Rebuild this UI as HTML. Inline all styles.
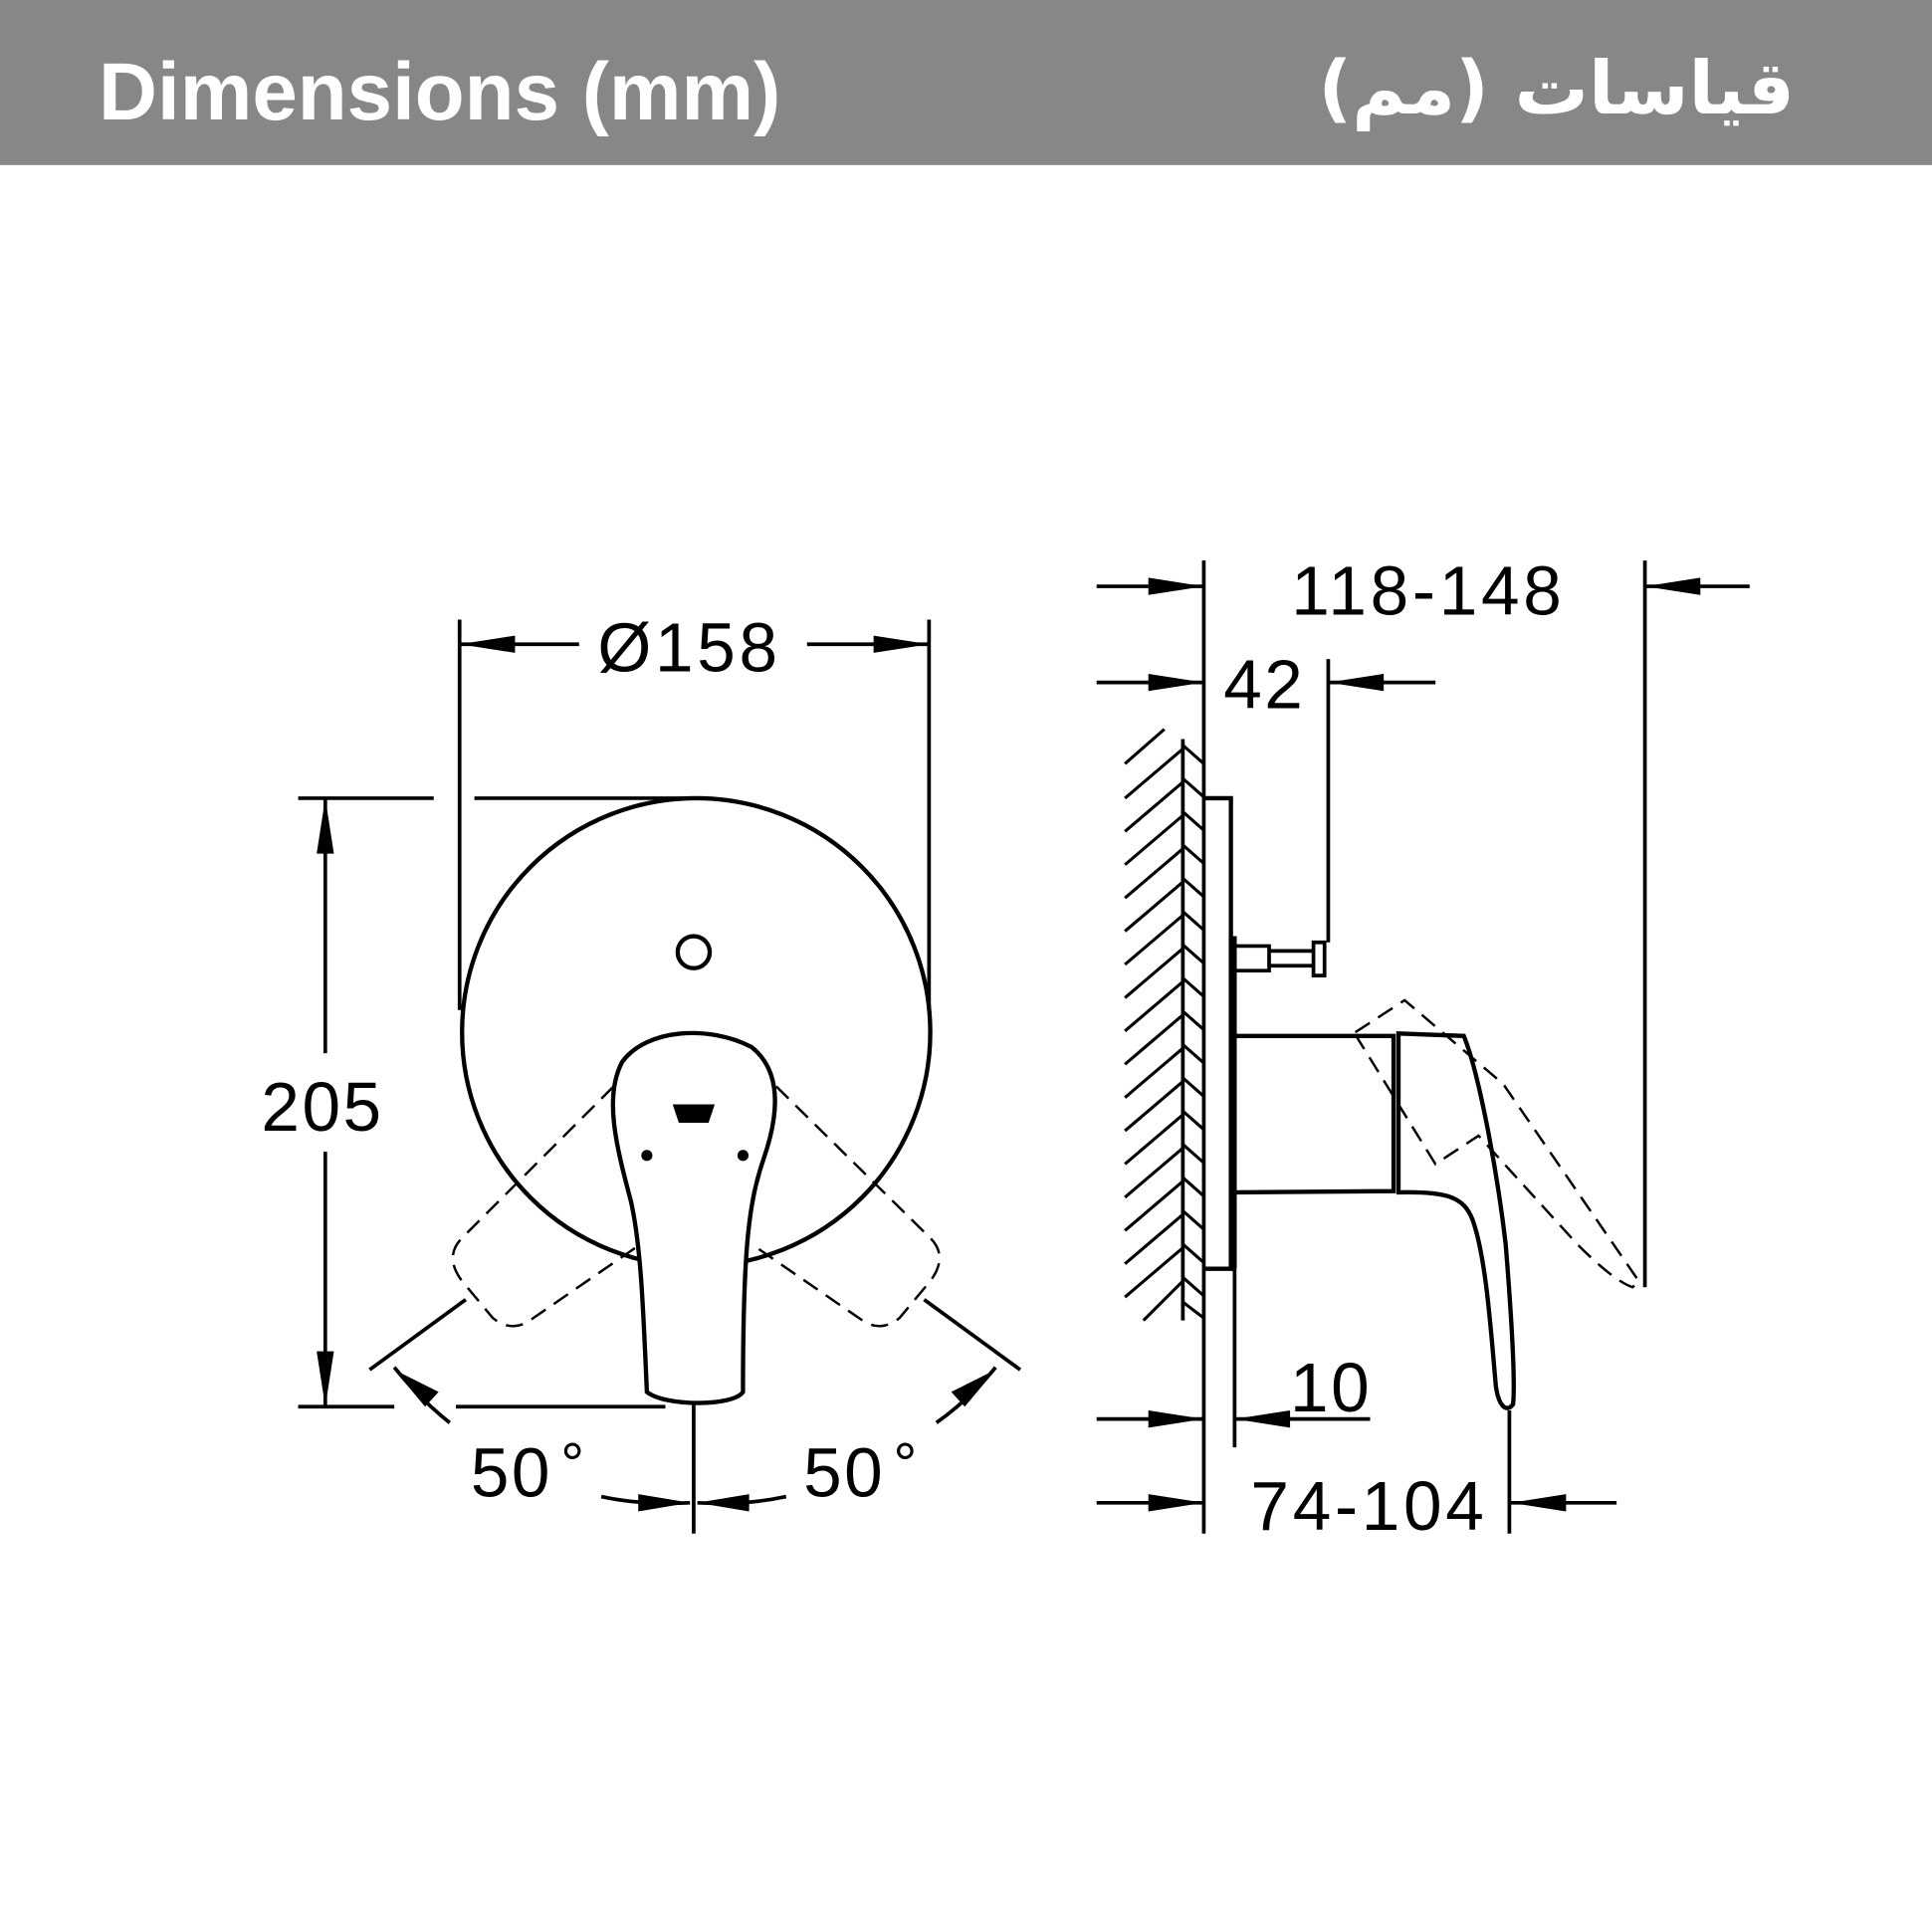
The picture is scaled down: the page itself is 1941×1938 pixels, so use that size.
<!DOCTYPE html>
<html><head><meta charset="utf-8"><style>
html,body{margin:0;padding:0;background:#fff}
svg{display:block}
.ar{position:absolute;right:138px;top:52px;font-family:"DejaVu Sans",sans-serif;font-weight:bold;font-size:74px;color:#fff;direction:rtl;line-height:1}
</style></head><body>
<div class="ar">قياسات (مم)</div>
<svg width="1941" height="1938" viewBox="0 0 1568 1566" preserveAspectRatio="none" xmlns="http://www.w3.org/2000/svg">
<rect x="0" y="0" width="1568" height="134" fill="#878787"/>
<text x="80" y="97" font-family="Liberation Sans, DejaVu Sans, sans-serif" font-weight="bold" font-size="66" fill="#fff">Dimensions (mm)</text>

<g stroke="#000" fill="none" stroke-width="3">
<circle cx="565" cy="838" r="190" stroke-width="3.5"/>
<circle cx="563" cy="773" r="13" stroke-width="3.5"/>
<path d="M525 1130 C522 1060 520 1010 512 975 C500 930 490 890 505 862 C525 835 575 832 610 850 C635 870 632 905 620 940 C608 975 603 1010 603 1130 C595 1142 540 1142 525 1130 Z" fill="#fff" stroke-width="3.5"/>
<path d="M548 898 L578 898 L574 910 L552 910 Z" fill="#000"/>
<circle cx="525" cy="938" r="3" fill="#000"/>
<circle cx="603" cy="938" r="3" fill="#000"/>
<g stroke-dasharray="14 8" stroke-width="2">
<path d="M498 882 L375 1005 Q360 1020 375 1040 L400 1070 Q415 1082 430 1072 L520 1010"/>
<path d="M630 882 L755 1005 Q770 1020 755 1040 L730 1070 Q715 1082 700 1072 L610 1010"/>
</g>
<line x1="373" y1="503" x2="373" y2="820"/>
<line x1="754" y1="503" x2="754" y2="820"/>
<line x1="373" y1="523" x2="470" y2="523"/>
<line x1="655" y1="523" x2="754" y2="523"/>
<line x1="242" y1="648" x2="352" y2="648"/>
<line x1="385" y1="648" x2="560" y2="648"/>
<line x1="242" y1="1142" x2="320" y2="1142"/>
<line x1="370" y1="1142" x2="540" y2="1142"/>
<line x1="264" y1="648" x2="264" y2="855"/>
<line x1="264" y1="935" x2="264" y2="1142"/>
<line x1="563" y1="1140" x2="563" y2="1245"/>
<line x1="300" y1="1112" x2="378" y2="1055"/>
<line x1="828" y1="1112" x2="750" y2="1055"/>
<path d="M320 1110 Q340 1135 365 1155"/>
<path d="M808 1110 Q788 1135 760 1155"/>
<path d="M488 1215 Q520 1222 560 1220"/>
<path d="M638 1215 Q606 1222 566 1220"/>
<line x1="977" y1="455" x2="977" y2="1245"/>
<line x1="1002" y1="1030" x2="1002" y2="1175"/>
<line x1="960" y1="600" x2="960" y2="1072"/>
<path d="M977 648 L999 648 L999 1030 L977 1030" stroke-width="3.5"/>
<line x1="1002" y1="760" x2="1002" y2="1030" stroke-width="3.5"/>
<path d="M1002 768 L1030 768 L1030 788 L1002 788 M1030 772 L1066 772 M1030 784 L1066 784 M1066 765 L1075 765 L1075 792 L1066 792 Z"/>
<line x1="1078" y1="535" x2="1078" y2="765"/>
<path d="M1003 841 L1131 841 L1131 967 L1003 968" stroke-width="3.5"/>
<path d="M1135 839 L1188 841 C1200 870 1215 950 1222 1010 C1226 1060 1230 1120 1228 1140 C1222 1148 1216 1140 1214 1125 C1210 1080 1206 1020 1195 990 C1188 972 1175 967 1135 968 Z" stroke-width="3.5"/>
<g stroke-dasharray="14 8" stroke-width="2">
<path d="M1100 838 L1140 812 L1220 880 L1330 1040 L1325 1045 Q1310 1040 1280 1010 L1200 922 L1165 945 L1100 840"/>
</g>
<line x1="1335" y1="455" x2="1335" y2="1045"/>
<line x1="890" y1="476" x2="977" y2="476"/>
<line x1="1335" y1="476" x2="1420" y2="476"/>
<line x1="890" y1="554" x2="977" y2="554"/>
<line x1="1078" y1="554" x2="1165" y2="554"/>
<line x1="890" y1="1152" x2="977" y2="1152"/>
<line x1="1002" y1="1152" x2="1112" y2="1152"/>
<line x1="890" y1="1220" x2="977" y2="1220"/>
<line x1="1226" y1="1220" x2="1312" y2="1220"/>
<line x1="1225" y1="1145" x2="1225" y2="1245"/>
</g>
<g stroke="#000" stroke-width="2.5">
<path d="M913 620 L945 592 M913 648 L960 608 M913 675 L960 635 M913 702 L960 662 M913 729 L960 689 M913 756 L960 716 M913 783 L960 743 M913 810 L960 770 M913 837 L960 797 M913 864 L960 824 M913 891 L960 851 M913 918 L960 878 M913 945 L960 905 M913 972 L960 932 M913 999 L960 959 M913 1026 L960 986 M913 1053 L960 1013 M928 1072 L960 1040"/>
<path d="M960 605 L977 620 M960 632 L977 647 M960 659 L977 674 M960 686 L977 701 M960 713 L977 728 M960 740 L977 755 M960 767 L977 782 M960 794 L977 809 M960 821 L977 836 M960 848 L977 863 M960 875 L977 890 M960 902 L977 917 M960 929 L977 944 M960 956 L977 971 M960 983 L977 998 M960 1010 L977 1025 M960 1037 L977 1052 M960 1057 L977 1070"/>
</g>
<g fill="#000">
<polygon points="373,523 418,516 418,530"/>
<polygon points="754,523 709,516 709,530"/>
<polygon points="264,648 257,693 271,693"/>
<polygon points="264,1142 257,1097 271,1097"/>
<polygon points="320,1112 356,1130 345,1142"/>
<polygon points="808,1112 772,1130 783,1142"/>
<polygon points="560,1220 518,1213 518,1227"/>
<polygon points="566,1220 608,1213 608,1227"/>
<polygon points="977,476 932,469 932,483"/>
<polygon points="1335,476 1380,469 1380,483"/>
<polygon points="977,554 932,547 932,561"/>
<polygon points="1078,554 1123,547 1123,561"/>
<polygon points="977,1152 932,1145 932,1159"/>
<polygon points="1002,1152 1047,1145 1047,1159"/>
<polygon points="977,1220 932,1213 932,1227"/>
<polygon points="1226,1220 1271,1213 1271,1227"/>
</g>
<g font-family="Liberation Sans, sans-serif" font-size="56" fill="#000">
<text x="485" y="545" letter-spacing="3">Ø158</text>
<text x="212" y="918" letter-spacing="2">205</text>
<text x="382" y="1215" letter-spacing="2">50</text><text x="455" y="1205" font-size="48">°</text>
<text x="652" y="1215" letter-spacing="2">50</text><text x="725" y="1205" font-size="48">°</text>
<text x="1048" y="499" letter-spacing="3">118-148</text>
<text x="993" y="575" letter-spacing="2">42</text>
<text x="1047" y="1146" letter-spacing="2">10</text>
<text x="1015" y="1242" letter-spacing="3">74-104</text>
</g>
</svg>
</body></html>
